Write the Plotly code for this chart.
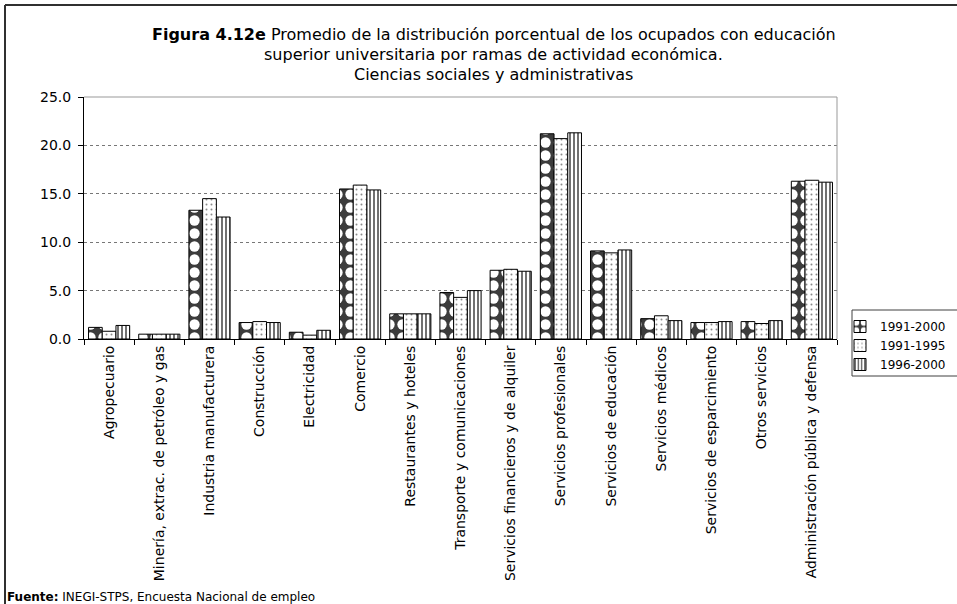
import plotly.graph_objects as go

# Ramas de actividad económica
ramas = [
    "Agropecuario",
    "Minería, extrac. de petróleo y gas",
    "Industria manufacturera",
    "Construcción",
    "Electricidad",
    "Comercio",
    "Restaurantes y hoteles",
    "Transporte y comunicaciones",
    "Servicios financieros y de alquiler",
    "Servicios profesionales",
    "Servicios de educación",
    "Servicios médicos",
    "Servicios de esparcimiento",
    "Otros servicios",
    "Administración pública y defensa",
]

# Promedio porcentual por periodo
p_1991_2000 = [1.2, 0.5, 13.3, 1.7, 0.7, 15.5, 2.6, 4.8, 7.1, 21.2, 9.1, 2.1, 1.7, 1.8, 16.3]
p_1991_1995 = [0.8, 0.5, 14.5, 1.8, 0.4, 15.9, 2.6, 4.3, 7.2, 20.7, 8.9, 2.4, 1.7, 1.6, 16.4]
p_1996_2000 = [1.4, 0.5, 12.6, 1.7, 0.9, 15.4, 2.6, 5.0, 7.0, 21.3, 9.2, 1.9, 1.8, 1.9, 16.2]

periodos = ["1991-2000", "1991-1995", "1996-2000"]
y_ticks = [0, 5, 10, 15, 20, 25]

W, H = 957, 604
L, R, T, B = 84, 837, 97, 339  # plot area in pixels


def px_x(x):
    return (x - L) / (R - L)


def px_y(y):
    return (B - y) / (B - T)


FONT = "DejaVu Sans, Verdana, sans-serif"

patterns = [
    dict(shape=".", bgcolor="#3c3c3c", fgcolor="white", size=13, solidity=0.5, fillmode="replace"),
    dict(shape=".", bgcolor="white", fgcolor="#8a8a8a", size=5, solidity=0.12, fillmode="replace"),
    dict(shape="|", bgcolor="white", fgcolor="black", size=4, solidity=0.28, fillmode="replace"),
]

fig = go.Figure()
for name, vals, pat in zip(periodos, [p_1991_2000, p_1991_1995, p_1996_2000], patterns):
    fig.add_trace(go.Bar(
        x=ramas, y=vals, name=name,
        marker=dict(color="white", pattern=pat, line=dict(color="black", width=1)),
    ))

title_lines = [
    "<b>Figura 4.12e</b> Promedio de la distribución porcentual de los ocupados con educación",
    "superior universitaria por ramas de actividad económica.",
    "Ciencias sociales y administrativas",
]
annotations = []
for i, line in enumerate(title_lines):
    annotations.append(dict(
        text=line, xref="paper", yref="paper",
        x=px_x(494), y=px_y(35 + 19.5 * i),
        xanchor="center", yanchor="middle", showarrow=False,
        font=dict(family=FONT, size=16, color="black"),
    ))
annotations.append(dict(
    text="<b>Fuente:</b> INEGI-STPS, Encuesta Nacional de empleo",
    xref="paper", yref="paper", x=px_x(5), y=px_y(597),
    xanchor="left", yanchor="middle", showarrow=False,
    font=dict(family=FONT, size=12, color="black"),
))

shapes = [
    # outer frame (left and top)
    dict(type="line", xref="paper", yref="paper", x0=px_x(5), x1=px_x(5), y0=px_y(5), y1=px_y(610),
         line=dict(color="#303030", width=2)),
    dict(type="line", xref="paper", yref="paper", x0=px_x(5), x1=px_x(960), y0=px_y(5), y1=px_y(5),
         line=dict(color="#303030", width=2)),
    # plot area top and right edges
    dict(type="line", xref="paper", yref="paper", x0=0, x1=1, y0=1, y1=1,
         line=dict(color="#999999", width=1)),
    dict(type="line", xref="paper", yref="paper", x0=1, x1=1, y0=0, y1=1,
         line=dict(color="#999999", width=1)),
    # legend box
    dict(type="rect", xref="paper", yref="paper", x0=px_x(852), x1=px_x(960), y0=px_y(376), y1=px_y(310),
         line=dict(color="#404040", width=1)),
]

fig.update_layout(
    width=W, height=H,
    margin=dict(l=L, r=W - R, t=T, b=H - B, pad=0, autoexpand=False),
    paper_bgcolor="white", plot_bgcolor="white",
    barmode="group", bargap=0.18, bargroupgap=0,
    font=dict(family=FONT, size=14, color="black"),
    showlegend=True,
    legend=dict(
        x=px_x(840), y=px_y(312), xanchor="left", yanchor="top",
        bgcolor="rgba(0,0,0,0)", borderwidth=0,
        font=dict(family=FONT, size=12, color="black"),
        itemwidth=30, tracegroupgap=0,
    ),
    annotations=annotations,
    shapes=shapes,
    xaxis=dict(
        type="category", tickangle=-90,
        showline=True, linecolor="black", linewidth=1,
        ticks="outside", tickson="boundaries", ticklen=5, tickcolor="black",
        showgrid=False, tickfont=dict(family=FONT, size=14),
    ),
    yaxis=dict(
        range=[0, 25], tickvals=y_ticks, tickformat=".1f",
        showline=True, linecolor="black", linewidth=1,
        ticks="outside", ticklen=5, tickcolor="black",
        showgrid=True, gridcolor="#777777", griddash="dot", gridwidth=1,
        zeroline=False, tickfont=dict(family=FONT, size=14),
        ticklabelstandoff=4,
    ),
)

fig.write_html("out.html")
